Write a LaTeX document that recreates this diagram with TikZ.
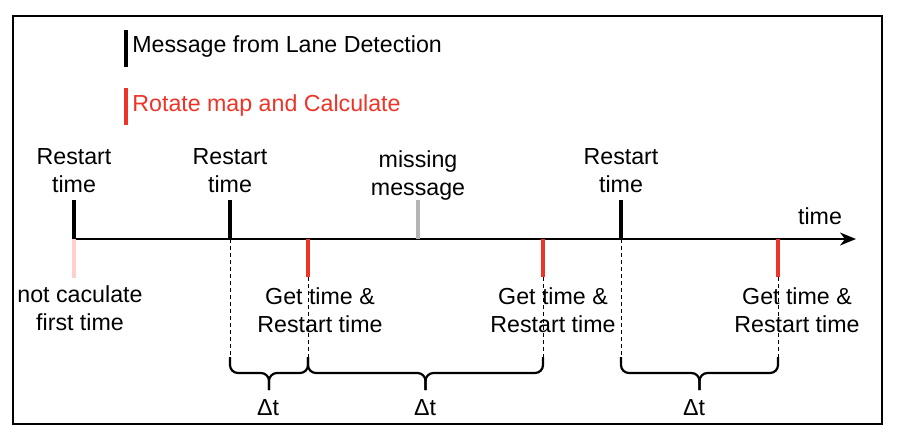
\documentclass[tikz,border=0pt]{standalone}
\usepackage{fontspec}
\setmainfont{Liberation Sans}
\usepackage{tikz}
\usetikzlibrary{arrows.meta,calc}

\definecolor{tickred}{RGB}{236,52,40}
\definecolor{tickpink}{RGB}{255,206,206}
\definecolor{tickgray}{RGB}{180,180,180}

\begin{document}
\begin{tikzpicture}[x=0.5pt,y=-0.5pt,
   lbl/.style={align=center,inner sep=0pt,font=\fontsize{11.6}{14}\selectfont},
   msgtick/.style={line width=1.6pt},
   calctick/.style={line width=1.6pt,draw=tickred},
   guide/.style={dash pattern=on 2pt off 1.5pt,line width=0.5pt},
   timebrace/.style={rounded corners=4pt,line width=1.1pt}]
   \useasboundingbox (0,0) rectangle (902,436);
   \draw[line width=0.9pt] (13,16) rectangle (882,424);

   % legend
   \coordinate (lgA) at (126,30);
   \coordinate (lgB) at (126,88);
   \draw[msgtick,line width=2.4pt] (lgA) -- ++(0,37);
   \draw[calctick,line width=2.4pt] (lgB) -- ++(0,37);
   \node[lbl,anchor=west] (lgtxtA) at (132,46) {Message from Lane Detection};
   \node[lbl,anchor=west,text=tickred] (lgtxtB) at (132,105) {Rotate map and Calculate};

   % time axis
   \coordinate (t0) at (74,239);
   \coordinate (tend) at (856,239);
   \draw[line width=0.7pt,-{Stealth[length=8pt,width=6.5pt,inset=2.5pt]}] (t0) -- (tend);
   \node[lbl] (timelbl) at (820,216) {time};

   % ticks on the axis
   \coordinate (r1) at (74,239);
   \coordinate (r2) at (230,239);
   \coordinate (r3) at (621,239);
   \coordinate (mm) at (418,239);
   \coordinate (c1) at (308,239);
   \coordinate (c2) at (543,239);
   \coordinate (c3) at (778,239);
   \draw[msgtick] (r1) -- ++(0,-39);
   \draw[msgtick] (r2) -- ++(0,-39);
   \draw[msgtick] (r3) -- ++(0,-39);
   \draw[msgtick,draw=tickgray] (mm) -- ++(0,-39);
   \draw[calctick,draw=tickpink] (r1) -- ++(0,39);
   \draw[calctick] (c1) -- ++(0,38) coordinate (c1e);
   \draw[calctick] (c2) -- ++(0,38) coordinate (c2e);
   \draw[calctick] (c3) -- ++(0,38) coordinate (c3e);

   \node[lbl] (rst1) at (74,171) {Restart\\time};
   \node[lbl] (rst2) at (230,171) {Restart\\time};
   \node[lbl] (rst3) at (621,171) {Restart\\time};
   \node[lbl] (miss) at (418,175) {missing\\message};
   \node[lbl] (nocalc) at (80,308) {not caculate\\first time};
   \node[lbl] (get1) at (320,310) {Get time \&\\Restart time};
   \node[lbl] (get2) at (553,310) {Get time \&\\Restart time};
   \node[lbl] (get3) at (797,310) {Get time \&\\Restart time};

   % dashed guides down to the braces
   \coordinate (b1) at (230,357);
   \coordinate (b2) at (308,357);
   \coordinate (b3) at (543,357);
   \coordinate (b4) at (621,357);
   \coordinate (b5) at (778,357);
   \draw[guide] (r2) -- (b1);
   \draw[guide] (c1e) -- (b2);
   \draw[guide] (c2e) -- (b3);
   \draw[guide] (r3) -- (b4);
   \draw[guide] (c3e) -- (b5);

   % braces
   \coordinate (d1) at (269,390);
   \coordinate (d2) at (425.5,390);
   \coordinate (d3) at (699.5,390);
   \draw[timebrace] (b1) |- ($(d1)+(0,-17)$) -- (d1);
   \draw[timebrace] (b2) |- ($(d1)+(0,-17)$) -- (d1);
   \draw[timebrace] (b2) |- ($(d2)+(0,-17)$) -- (d2);
   \draw[timebrace] (b3) |- ($(d2)+(0,-17)$) -- (d2);
   \draw[timebrace] (b4) |- ($(d3)+(0,-17)$) -- (d3);
   \draw[timebrace] (b5) |- ($(d3)+(0,-17)$) -- (d3);

   \node[lbl] (dt1) at (268,408) {Δt};
   \node[lbl] (dt2) at (425,408) {Δt};
   \node[lbl] (dt3) at (694,408) {Δt};
\end{tikzpicture}
\end{document}
